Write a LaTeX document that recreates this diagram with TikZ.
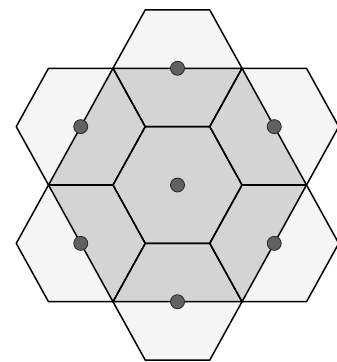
\documentclass[tikz,border=0pt]{standalone}
\begin{document}
\begin{tikzpicture}[x=64.5pt,y=67.4pt,
  hexline/.style={draw=black, line width=1.5pt, line join=round},
  outerfill/.style={fill=black!4},
  innerfill/.style={fill=black!17},
  dot/.style={circle, fill=black!62, draw=black!85, line width=0.8pt, inner sep=0pt, minimum size=14pt}]
\useasboundingbox (-177.5pt,-177pt) rectangle (159.5pt,185pt);
% cell centres
\coordinate (h0) at (0,0);
\coordinate (h1) at (0,1.732);
\coordinate (h2) at (1.5,0.866);
\coordinate (h3) at (1.5,-0.866);
\coordinate (h4) at (0,-1.732);
\coordinate (h5) at (-1.5,-0.866);
\coordinate (h6) at (-1.5,0.866);
% light fill of the outer cells
\foreach \c in {h1,h2,h3,h4,h5,h6}
  \fill[outerfill] (\c) +(0:1) -- +(60:1) -- +(120:1) -- +(180:1) -- +(240:1) -- +(300:1) -- cycle;
% grey large hexagon
\fill[innerfill] (0:2) -- (60:2) -- (120:2) -- (180:2) -- (240:2) -- (300:2) -- cycle;
% cell outlines
\foreach \c in {h0,h1,h2,h3,h4,h5,h6}
  \draw[hexline] (\c) +(0:1) -- +(60:1) -- +(120:1) -- +(180:1) -- +(240:1) -- +(300:1) -- cycle;
% large hexagon outline
\draw[hexline] (0:2) -- (60:2) -- (120:2) -- (180:2) -- (240:2) -- (300:2) -- cycle;
% base stations
\foreach \c in {h0,h1,h2,h3,h4,h5,h6}
  \node[dot] (d\c) at (\c) {};
\end{tikzpicture}
\end{document}
